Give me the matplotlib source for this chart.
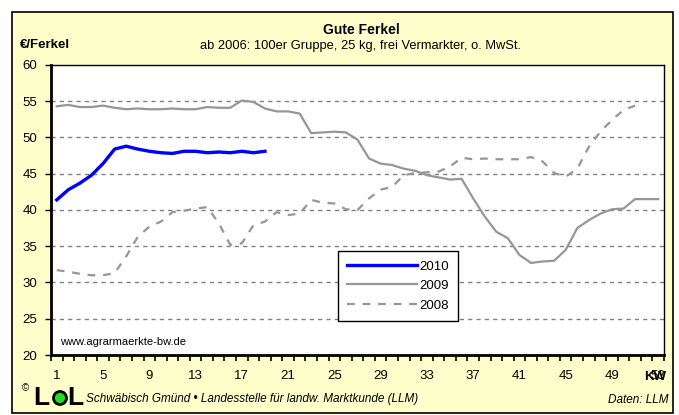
import numpy as np
import matplotlib
matplotlib.use('Agg')
import matplotlib.pyplot as plt
from matplotlib.patches import Rectangle, Ellipse

plt.rcParams['font.family'] = ['Liberation Sans', 'DejaVu Sans']

# Wochenpreise Gute Ferkel (EUR/Ferkel)
preis_2010 = [41.4, 42.8, 43.7, 44.8, 46.4, 48.4, 48.8, 48.4, 48.1, 47.9,
              47.8, 48.1, 48.1, 47.9, 48.0, 47.9, 48.1, 47.9, 48.1]
preis_2009 = [54.3, 54.5, 54.2, 54.2, 54.4, 54.1, 53.9, 54.0, 53.9, 53.9,
              54.0, 53.9, 53.9, 54.2, 54.1, 54.1, 55.1, 54.9, 54.0, 53.6,
              53.6, 53.3, 50.6, 50.7, 50.8, 50.7, 49.7, 47.1, 46.4, 46.2,
              45.7, 45.4, 44.8, 44.5, 44.2, 44.3, 41.6, 39.1, 37.0, 36.1,
              33.8, 32.7, 32.9, 33.0, 34.5, 37.5, 38.6, 39.5, 40.1, 40.2,
              41.5, 41.5, 41.5]
preis_2008 = [31.7, 31.5, 31.2, 31.0, 31.0, 31.3, 33.6, 36.3, 37.7, 38.4,
              39.7, 39.9, 40.2, 40.4, 38.2, 35.2, 35.4, 37.9, 38.4, 39.7,
              39.3, 39.5, 41.4, 41.0, 40.9, 40.1, 40.0, 41.6, 42.8, 43.2,
              44.8, 45.1, 45.2, 45.3, 46.0, 47.2, 47.0, 47.1, 47.0, 47.0,
              47.0, 47.3, 46.7, 45.1, 44.6, 45.7, 48.7, 50.8, 52.4, 53.8,
              54.4]
kw_labels = list(range(1, 54, 4))

W, H = 679, 415
fig = plt.figure(figsize=(W / 100, H / 100), dpi=100, facecolor='white')

# gelber Rahmen
bg = Rectangle((12 / W, 1 - 413 / H), 661 / W, 401 / H, transform=fig.transFigure,
               facecolor='#FFFFCC', edgecolor='black', linewidth=1.2, zorder=-10)
fig.patches.append(bg)

ax = fig.add_axes([51 / W, 1 - 355 / H, 613 / W, 290 / H])
ax.set_zorder(2)
ax.set_facecolor('white')

wk10 = np.arange(1, len(preis_2010) + 1)
wk09 = np.arange(1, len(preis_2009) + 1)
wk08 = np.arange(1, len(preis_2008) + 1)

ax.plot(wk08, preis_2008, color='#969696', lw=1.6, linestyle=(0, (3.5, 3.5)), label='2008', zorder=3)
ax.plot(wk09, preis_2009, color='#969696', lw=1.6, label='2009', zorder=4)
ax.plot(wk10, preis_2010, color='#0000FF', lw=2.4, label='2010', zorder=5)

ax.set_xlim(0.5, 53.5)
ax.set_ylim(20, 60)

for v in range(25, 60, 5):
    ax.axhline(v, color='#808080', lw=1, linestyle=(0, (3, 3)), zorder=1)

ax.set_yticks(range(20, 61, 5))
ax.tick_params(axis='y', direction='out', length=4, width=1, labelsize=9.5, pad=6)

ax.set_xticks(np.arange(0.5, 54, 1))
ax.set_xticklabels([])
ax.tick_params(axis='x', which='major', direction='out', length=4, width=1.2)
ax.set_xticks(kw_labels, minor=True)
ax.set_xticklabels([str(k) for k in kw_labels], minor=True)
ax.tick_params(axis='x', which='minor', length=0, labelsize=9.5, pad=11)

for s in ['left', 'bottom']:
    ax.spines[s].set_linewidth(2)
for s in ['top', 'right']:
    ax.spines[s].set_linewidth(1)

h, l = ax.get_legend_handles_labels()
order = [2, 1, 0]
leg = ax.legend([h[i] for i in order], [l[i] for i in order],
                loc='lower left', bbox_to_anchor=(0.468, 0.118),
                fontsize=9.5, frameon=True, fancybox=False, edgecolor='black',
                framealpha=1, handlelength=5.3, handletextpad=0.15,
                labelspacing=0.55, borderpad=0.7, borderaxespad=0)
leg.get_frame().set_linewidth(1)

ax.text(0.015, 0.045, 'www.agrarmaerkte-bw.de', transform=ax.transAxes,
        fontsize=8, ha='left', va='center')

fig.text(361 / W, 1 - 30 / H, 'Gute Ferkel', ha='center', va='center',
         fontsize=10, fontweight='bold')
fig.text(361 / W, 1 - 46 / H, 'ab 2006: 100er Gruppe, 25 kg, frei Vermarkter, o. MwSt.',
         ha='center', va='center', fontsize=9.3)
fig.text(20 / W, 1 - 45 / H, '€/Ferkel', ha='left', va='center',
         fontsize=9.5, fontweight='bold')
fig.text(655 / W, 1 - 377 / H, 'KW', ha='center', va='center',
         fontsize=9.5, fontweight='bold', zorder=5)

# Logo und Fußzeile
fig.text(25 / W, 1 - 388 / H, '©', ha='center', va='center', fontsize=7)
fig.text(33 / W, 1 - 398 / H, 'L', ha='left', va='center', fontsize=19, fontweight='bold')
fig.patches.append(Ellipse((60 / W, 1 - 398 / H), 13 / W, 13 / H, transform=fig.transFigure,
                           facecolor='#22DD22', edgecolor='black', linewidth=2, zorder=5))
fig.text(67 / W, 1 - 398 / H, 'L', ha='left', va='center', fontsize=19, fontweight='bold')
fig.text(86 / W, 1 - 399 / H, 'Schwäbisch Gmünd • Landesstelle für landw. Marktkunde (LLM)',
         ha='left', va='center', fontsize=8.5, style='italic')
fig.text(668 / W, 1 - 400 / H, 'Daten: LLM', ha='right', va='center',
         fontsize=8.5, style='italic')

fig.savefig('out.png', dpi=100, facecolor='white')
